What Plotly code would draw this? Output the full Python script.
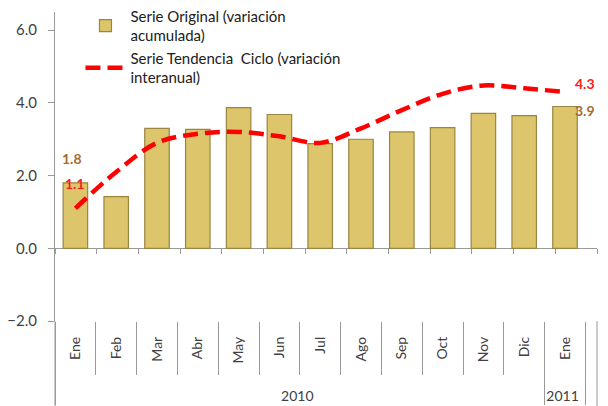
import plotly.graph_objects as go

# Data
years = ["2010"] * 12 + ["2011"]
months = ["Ene", "Feb", "Mar", "Abr", "May", "Jun", "Jul", "Ago", "Sep", "Oct", "Nov", "Dic", "Ene"]
serie_original = [1.8, 1.42, 3.3, 3.27, 3.87, 3.68, 2.88, 3.0, 3.2, 3.32, 3.71, 3.65, 3.9]
serie_tendencia = [1.1, 2.1, 2.9, 3.15, 3.2, 3.08, 2.9, 3.3, 3.8, 4.25, 4.48, 4.4, 4.3]
y_ticks = [-2, 0, 2, 4, 6]

font_family = "Lato, 'Open Sans', sans-serif"
text_color = "#404040"
orange = "#A96A2C"
axis_gray = "#999999"

# leading non-breaking spaces give the rotated month labels the same depth as in the original,
# so the year row sits lower
month_labels = ["\u00a0" * 6 + m for m in months]

fig = go.Figure()

fig.add_trace(go.Bar(
    x=[years, month_labels],
    y=serie_original,
    name="Serie Original (variación<br>acumulada)",
    width=0.6,
    marker=dict(color="#DCC56A", line=dict(color="#9A8440", width=1.2)),
))

fig.add_trace(go.Scatter(
    x=[years, month_labels],
    y=serie_tendencia,
    name="Serie Tendencia  Ciclo (variación<br>interanual)",
    mode="lines",
    line=dict(color="#FF0000", width=4.5, dash="15px,7px", shape="spline", smoothing=1.0),
))

# invisible trace to carry the zero-line axis with boundary ticks
fig.add_trace(go.Scatter(
    x=list(range(len(months))), y=[0] * len(months),
    xaxis="x2", mode="lines", line=dict(width=0),
    showlegend=False, hoverinfo="skip",
))

# first / last point labels
fig.add_annotation(x=0, y=serie_original[0], text="<b>%.1f</b>" % serie_original[0],
                   showarrow=False, yshift=24, xshift=-3, font=dict(color=orange, size=14, family=font_family))
fig.add_annotation(x=0, y=serie_tendencia[0], text="<b>%.1f</b>" % serie_tendencia[0],
                   showarrow=False, yshift=25, xshift=0, font=dict(color="#FF1A1A", size=14, family=font_family))
fig.add_annotation(x=12, y=serie_tendencia[-1], text="<b>%.1f</b>" % serie_tendencia[-1],
                   showarrow=False, yshift=8, xshift=20, font=dict(color="#FF1A1A", size=14, family=font_family))
fig.add_annotation(x=12, y=serie_original[-1], text="<b>%.1f</b>" % serie_original[-1],
                   showarrow=False, yshift=-4, xshift=20, font=dict(color=orange, size=14, family=font_family))

y_min, y_max = -2, 6.5
zero_pos = (0 - y_min) / (y_max - y_min)

# frame lines through the category label band at both ends
for xp in (0, 1):
    fig.add_shape(type="line", xref="paper", yref="paper", x0=xp, x1=xp, y0=-0.3, y1=0,
                  line=dict(color=axis_gray, width=1))

# the page body adds an 8px offset, so the figure is sized 600x398
fig.update_layout(
    width=600, height=398,
    margin=dict(l=47, r=11, t=4, b=85, autoexpand=False),
    paper_bgcolor="white", plot_bgcolor="white",
    font=dict(family=font_family, size=13, color=text_color),
    showlegend=True,
    legend=dict(x=0.047, y=1.04, xanchor="left", yanchor="top",
                bgcolor="rgba(0,0,0,0)", font=dict(size=15, color="#202020"),
                tracegroupgap=0, itemwidth=40),
    bargap=0.4,
    xaxis=dict(
        type="multicategory", automargin=False,
        showline=False,
        ticks="outside", ticklen=53, tickcolor=axis_gray, tickwidth=1,
        tickangle=-90, tickfont=dict(size=14, color=text_color),
        ticklabelstandoff=12,
        showdividers=True, dividercolor=axis_gray, dividerwidth=1,
        showgrid=False, zeroline=False,
    ),
    xaxis2=dict(
        overlaying="x", anchor="free", position=zero_pos,
        range=[-0.5, 12.5], showgrid=False, zeroline=False,
        tickvals=[i - 0.5 for i in range(len(months) + 1)],
        showticklabels=False, ticks="outside", ticklen=5,
        tickcolor=axis_gray, showline=False,
    ),
    yaxis=dict(
        range=[y_min, y_max], tickvals=y_ticks, tickformat=".1f", automargin=False,
        showline=True, linecolor=axis_gray, linewidth=1,
        ticks="outside", ticklen=6, tickcolor=axis_gray, ticklabelstandoff=8,
        showgrid=False, zeroline=True, zerolinecolor=axis_gray, zerolinewidth=1,
        tickfont=dict(size=15, color=text_color),
    ),
)

fig.write_html("out.html")
